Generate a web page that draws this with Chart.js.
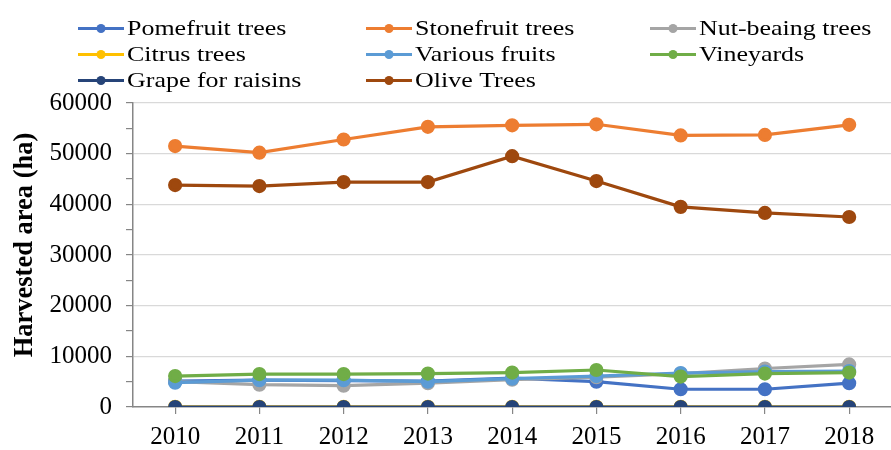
<!DOCTYPE html>
<html>
<head>
<meta charset="utf-8">
<script src="https://cdn.jsdelivr.net/npm/chart.js@4/dist/chart.umd.min.js"></script>
<style>
html,body{margin:0;padding:0;background:#fff;overflow:hidden;}
#wrap{width:900px;height:450px;}
</style>
</head>
<body>
<div id="wrap"><canvas id="c" width="900" height="450"></canvas></div>
<script>
const years = ['2010','2011','2012','2013','2014','2015','2016','2017','2018'];
const seriesNames = ['Pomefruit trees','Stonefruit trees','Nut-beaing trees','Citrus trees','Various fruits','Vineyards','Grape for raisins','Olive Trees'];
const pomefruit  = [5100, 5300, 5200, 5100, 5700, 5000, 3500, 3500, 4700];
const stonefruit = [51500, 50200, 52800, 55300, 55600, 55800, 53600, 53700, 55700];
const nutBearing = [5000, 4400, 4200, 4700, 5400, 5900, 6600, 7600, 8400];
const citrus     = [50, 50, 50, 50, 50, 50, 50, 50, 50];
const various    = [4800, 5300, 5300, 5000, 5600, 6100, 6700, 7000, 7100];
const vineyards  = [6100, 6500, 6500, 6600, 6800, 7300, 6000, 6600, 6800];
const raisins    = [0, 0, 0, 0, 0, 0, 0, 0, 0];
const olive      = [43800, 43600, 44400, 44400, 49500, 44600, 39500, 38300, 37500];
const yTicks = [0, 10000, 20000, 30000, 40000, 50000, 60000];
const yTitle = 'Harvested area (ha)';

const colors = ['#4472C4','#ED7D31','#A5A5A5','#FFC000','#5B9BD5','#70AD47','#264478','#9E480E'];
const allData = [pomefruit, stonefruit, nutBearing, citrus, various, vineyards, raisins, olive];

const datasets = allData.map((d, i) => ({
  label: seriesNames[i],
  data: d,
  borderColor: colors[i],
  backgroundColor: colors[i],
  pointBackgroundColor: colors[i],
  pointBorderColor: colors[i],
  borderWidth: 3.2,
  pointRadius: 5.5,
  pointHoverRadius: 5.5,
  tension: 0,
  order: allData.length - i
}));

const legendPlugin = {
  id: 'gridLegend',
  afterDraw(chart) {
    const ctx = chart.ctx;
    const cols = [78, 366, 650];
    const rows = [28.5, 54.5, 80.5];
    ctx.save();
    seriesNames.forEach((name, i) => {
      const x = cols[i % 3], y = rows[Math.floor(i / 3)];
      ctx.strokeStyle = colors[i];
      ctx.lineWidth = 3;
      ctx.beginPath(); ctx.moveTo(x, y); ctx.lineTo(x + 46, y); ctx.stroke();
      ctx.fillStyle = colors[i];
      ctx.beginPath(); ctx.arc(x + 23, y, 4.5, 0, Math.PI * 2); ctx.fill();
      ctx.fillStyle = '#000';
      ctx.font = '22px "Liberation Serif", "Times New Roman", serif';
      ctx.textBaseline = 'middle';
      ctx.save();
      ctx.translate(x + 49, y);
      ctx.scale(1.18, 1);
      ctx.fillText(name, 0, 1);
      ctx.restore();
    });
    // y-axis title
    ctx.save();
    ctx.translate(25, 245);
    ctx.rotate(-Math.PI / 2);
    ctx.fillStyle = '#000';
    ctx.font = 'bold 26.5px "Liberation Serif", "Times New Roman", serif';
    ctx.textAlign = 'center';
    ctx.textBaseline = 'middle';
    ctx.fillText(yTitle, 0, 0);
    ctx.restore();
    ctx.restore();
  }
};

new Chart(document.getElementById('c'), {
  type: 'line',
  data: { labels: years, datasets: datasets },
  plugins: [legendPlugin],
  options: {
    responsive: false,
    animation: false,
    events: [],
    layout: { padding: { top: 103, right: 6, left: 0, bottom: 0 } },
    plugins: { legend: { display: false }, tooltip: { enabled: false } },
    scales: {
      x: {
        offset: true,
        grid: { drawOnChartArea: false, drawTicks: true, tickLength: 7, color: '#868686', lineWidth: 1.2 },
        border: { color: '#868686', width: 1.5 },
        ticks: { color: '#000', padding: 8, font: { family: '"Liberation Serif", serif', size: 25 }, maxRotation: 0 },
        afterFit(scale) { scale.height = 43; }
      },
      y: {
        min: 0, max: 60000,
        afterBuildTicks(scale) {
          const t = [];
          for (let v = 0; v <= 60000; v += 5000) t.push({ value: v });
          scale.ticks = t;
        },
        grid: {
          color: (c) => (c.tick && c.tick.value % 10000 === 0 && c.tick.value !== 0) ? '#d9d9d9' : 'rgba(0,0,0,0)',
          tickColor: '#868686',
          tickLength: 7,
          lineWidth: 1.2
        },
        border: { color: '#868686', width: 1.5 },
        ticks: {
          autoSkip: false,
          color: '#000',
          padding: 14,
          font: { family: '"Liberation Serif", serif', size: 25 },
          callback: (v) => yTicks.includes(v) ? String(v) : ''
        },
        afterFit(scale) { scale.width = 133; }
      }
    }
  }
});
</script>
</body>
</html>
